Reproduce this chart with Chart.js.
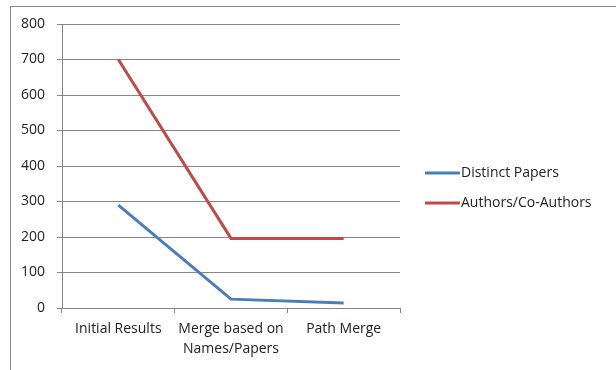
<!DOCTYPE html>
<html>
<head>
<meta charset="utf-8">
<script src="https://cdn.jsdelivr.net/npm/chart.js@4.4.0/dist/chart.umd.min.js"></script>
<style>
    html, body { margin: 0; padding: 0; background: #fff; overflow: hidden; }
    #wrap { position: relative; width: 616px; height: 370px; }
    #frame { position: absolute; left: 10px; top: 6px; width: 700px; height: 500px; border: 1px solid #8a8a8a; pointer-events: none; }
</style>
</head>
<body>
<div id="wrap">
    <canvas id="mergeChart" width="616" height="370"></canvas>
    <div id="frame"></div>
</div>
<script>
const categories = [["Initial Results"], ["Merge based on", "Names/Papers"], ["Path Merge"]];
const distinctPapers = [290, 25, 14];
const coAuthors = [700, 196, 196];
const yTicks = [0, 100, 200, 300, 400, 500, 600, 700, 800];

const seriesNames = ["Distinct Papers", "Authors/Co-Authors"];
const seriesColors = ["#4a7ebb", "#be4b48"];

const fontFamily = "'Open Sans', 'Noto Sans', sans-serif";

// legend drawn by hand, Excel style: line then text right after
const sideLegend = {
    id: 'sideLegend',
    afterDraw(chart) {
        const ctx = chart.ctx;
        const area = chart.chartArea;
        ctx.save();
        ctx.font = "14px " + fontFamily;
        ctx.textBaseline = "middle";
        ctx.fillStyle = "#222";
        chart.data.datasets.forEach((ds, i) => {
            const y = 173 + i * 30;
            ctx.strokeStyle = ds.borderColor;
            ctx.lineWidth = 3;
            ctx.beginPath();
            ctx.moveTo(area.right + 25, y);
            ctx.lineTo(area.right + 60, y);
            ctx.stroke();
            ctx.fillText(ds.label, area.right + 61, y);
        });
        ctx.restore();
    }
};

const ctx = document.getElementById('mergeChart').getContext('2d');

const mergeChart = new Chart(ctx, {
    type: 'line',
    data: {
        labels: categories,
        datasets: [
            {
                label: seriesNames[0],
                data: distinctPapers,
                borderColor: seriesColors[0],
                borderWidth: 3,
                pointRadius: 0,
                tension: 0
            },
            {
                label: seriesNames[1],
                data: coAuthors,
                borderColor: seriesColors[1],
                borderWidth: 3,
                pointRadius: 0,
                tension: 0
            }
        ]
    },
    options: {
        responsive: false,
        animation: false,
        layout: {
            padding: { left: 0, top: 24, right: 216, bottom: 0 }
        },
        plugins: {
            legend: { display: false },
            tooltip: { enabled: false }
        },
        scales: {
            x: {
                offset: true,
                grid: {
                    offset: true,
                    drawOnChartArea: false,
                    drawTicks: true,
                    tickLength: 5,
                    color: "#868686"
                },
                border: { color: "#868686" },
                ticks: {
                    color: "#222",
                    padding: 6,
                    maxRotation: 0,
                    autoSkip: false,
                    font: { family: fontFamily, size: 14, lineHeight: 1.45 }
                },
                afterFit: s => { s.height = 62; }
            },
            y: {
                min: 0,
                max: 800,
                afterBuildTicks: s => { s.ticks = yTicks.map(v => ({ value: v })); },
                grid: {
                    color: "#868686",
                    tickLength: 5
                },
                border: { color: "#868686" },
                ticks: {
                    color: "#222",
                    padding: 12,
                    font: { family: fontFamily, size: 14 }
                },
                afterFit: s => { s.width = 62; }
            }
        }
    },
    plugins: [sideLegend]
});
</script>
</body>
</html>
